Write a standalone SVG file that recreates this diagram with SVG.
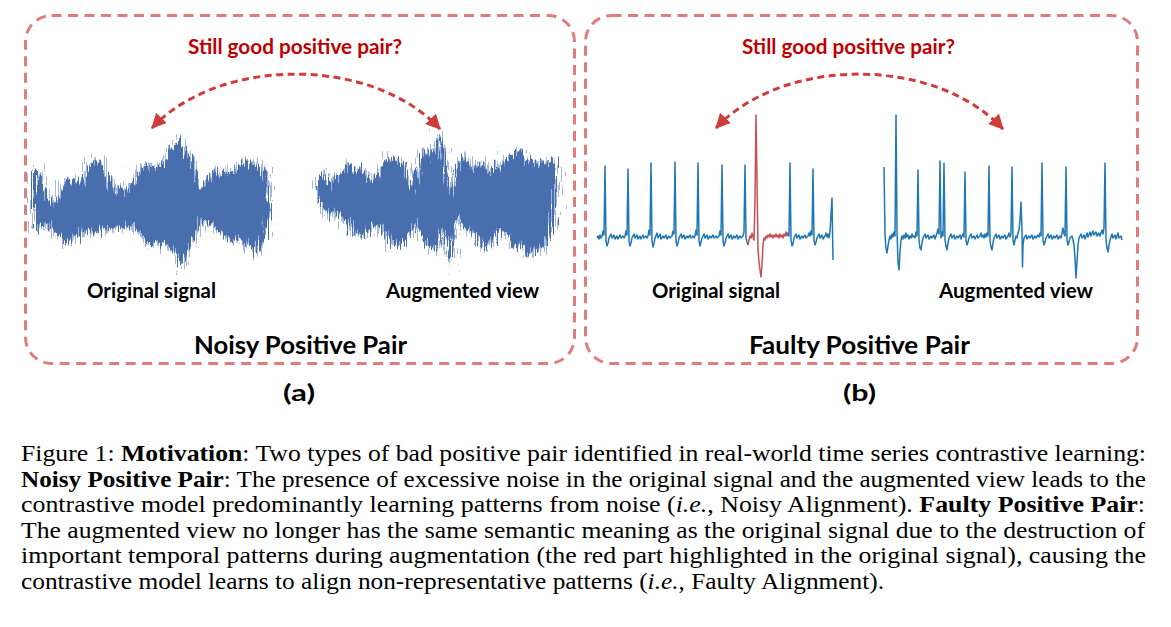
<svg xmlns="http://www.w3.org/2000/svg" xmlns:xlink="http://www.w3.org/1999/xlink" width="1171" height="627" viewBox="0 0 1171 627">
<style>
.border{fill:none;stroke:#E07C7A;stroke-width:3;stroke-dasharray:10 6.5}
.q{font-family:Lato,"Open Sans","Liberation Sans",sans-serif;font-weight:700;font-size:20px;fill:#C00000}
.lbl{font-family:Lato,"Open Sans","Liberation Sans",sans-serif;font-weight:700;font-size:20px;fill:#000}
.ttl{font-family:Lato,"Open Sans","Liberation Sans",sans-serif;font-weight:700;font-size:24px;fill:#000}
.sub{font-family:Lato,"Open Sans","Liberation Sans",sans-serif;font-weight:700;font-size:23px;fill:#000}
.cap{font-family:"Liberation Serif","Times New Roman",serif;font-size:23px;fill:#000}
.b{font-weight:700}
.it{font-style:italic}
.arr{fill:none;stroke:#D03B3B;stroke-width:3;stroke-dasharray:7 4.5;marker-start:url(#ah);marker-end:url(#ah)}
.ecg{fill:none;stroke:#1F77B4;stroke-width:1.5;stroke-linejoin:round}
.ecgr{fill:none;stroke:#C94F55;stroke-width:1.5;stroke-linejoin:round}
.noise{fill:#4A6EAD}
.fringe{fill:#7E9BD0;opacity:.7}
</style>
<defs>
<marker id="ah" viewBox="0 0 14 14" refX="13" refY="7" markerWidth="15" markerHeight="15" markerUnits="userSpaceOnUse" orient="auto-start-reverse">
<path d="M0,0 L14,7 L0,14 z" fill="#D03B3B"/>
</marker>
<filter id="j1" x="-0.05" y="-0.3" width="1.1" height="1.6">
<feTurbulence type="fractalNoise" baseFrequency="0.7 0.03" numOctaves="2" seed="4" result="n"/>
<feDisplacementMap in="SourceGraphic" in2="n" scale="24" xChannelSelector="R" yChannelSelector="G"/>
</filter>
<filter id="j2" x="-0.05" y="-0.3" width="1.1" height="1.6">
<feTurbulence type="fractalNoise" baseFrequency="0.9 0.05" numOctaves="2" seed="9" result="n"/>
<feDisplacementMap in="SourceGraphic" in2="n" scale="38" xChannelSelector="R" yChannelSelector="G"/>
</filter>
<path id="sigA1" d="M33,168 L36,172 40,177 44,187 48,199 52,202 56,204 60,194 64,184 68,182 72,180 76,184 80,190 84,180 88,167 92,162 96,160 100,164 104,167 108,182 112,190 116,194 120,192 124,188 128,192 132,184 136,182 140,172 144,167 148,164 152,170 156,167 160,167 164,160 168,152 172,147 175,142 177,139 180,145 184,150 188,154 192,162 196,177 200,190 204,187 208,180 212,172 216,170 220,174 224,169 228,174 232,172 236,174 240,164 244,160 248,167 252,162 256,164 260,167 264,170 268,180 L268,214 264,240 260,250 256,254 252,244 248,248 244,240 240,237 236,242 232,238 228,240 224,234 220,232 216,230 212,226 208,220 204,216 200,220 196,232 192,244 188,254 184,260 182,265 178,258 174,252 170,247 166,242 162,245 158,240 154,242 150,244 146,238 142,234 138,230 134,228 130,230 126,226 122,228 118,224 114,226 110,228 106,230 102,227 98,232 94,234 90,230 86,227 82,234 78,238 74,232 70,240 66,242 62,238 58,234 54,230 50,228 46,224 42,226 38,230 33,228 Z"/>
<path id="sigA2" d="M321,177 L324,174 328,182 332,180 336,174 340,177 344,172 348,164 352,167 356,172 360,166 364,174 368,180 372,177 376,178 380,172 384,162 388,159 392,160 396,158 400,162 404,164 408,180 412,190 416,177 420,162 424,152 428,150 432,160 436,147 439,134 442,142 444,157 447,177 450,197 453,187 456,170 460,160 464,157 468,162 472,172 476,166 480,162 484,167 488,172 492,170 496,164 500,170 504,162 508,157 512,154 516,150 520,157 524,152 528,162 532,160 536,164 540,167 544,160 548,164 552,160 555,167 L555,212 552,230 548,237 544,244 540,250 536,247 532,257 528,252 524,250 520,242 516,247 512,242 508,234 504,232 500,230 496,234 492,242 488,250 484,247 480,237 476,232 472,234 468,230 464,227 460,220 456,217 453,242 451,269 448,247 445,232 442,227 438,242 434,250 430,244 426,247 422,237 418,227 414,224 410,230 406,240 402,244 398,242 394,245 390,240 386,237 382,227 378,222 374,224 370,227 366,234 362,237 358,230 354,234 350,227 346,220 342,217 338,214 334,212 330,217 326,212 321,210 Z"/>
</defs>
<rect width="1171" height="627" fill="#fff"/>

<g id="panel-a">
<rect class="border" x="25.5" y="15.5" width="549" height="348" rx="26"/>
<text class="q" x="188" y="54" textLength="214" lengthAdjust="spacingAndGlyphs">Still good positive pair?</text>
<g id="a-original">
<use xlink:href="#sigA1" class="fringe" filter="url(#j2)"/>
<use xlink:href="#sigA1" class="noise" filter="url(#j1)"/>
</g>
<g id="a-augmented">
<use xlink:href="#sigA2" class="fringe" filter="url(#j2)"/>
<use xlink:href="#sigA2" class="noise" filter="url(#j1)"/>
</g>
<text class="lbl" x="87" y="298" textLength="129" lengthAdjust="spacingAndGlyphs">Original signal</text>
<text class="lbl" x="386" y="298" textLength="153" lengthAdjust="spacingAndGlyphs">Augmented view</text>
<text class="ttl" x="194" y="354" textLength="213" lengthAdjust="spacingAndGlyphs">Noisy Positive Pair</text>
<text class="sub" x="283" y="401" textLength="32" lengthAdjust="spacingAndGlyphs">(a)</text>
</g>

<g id="panel-b">
<rect class="border" x="585.5" y="15.5" width="552" height="348" rx="26"/>
<text class="q" x="742" y="54" textLength="213" lengthAdjust="spacingAndGlyphs">Still good positive pair?</text>
<g id="b-original">
<path class="ecg" d="M597,238 L598,236 599,239 600,235 601,238 602,236 603,231 604,235 605,166 606,241 607,246 608,243 609,238 611,234 612,238 614,235 615,239 617,236 618,239 620,235 621,238 623,236 624,238 625,236 626,231 627,235 628,169 629,241 630,246 631,243 632,238 634,234 635,238 637,235 638,239 640,236 641,239 643,235 644,238 646,236 647,238 648,236 649,230 650,235 651,163 652,241 653,247 654,243 655,238 657,233 658,238 660,234 661,239 663,236 664,238 666,235 667,239 669,236 670,238 672,236 673,231 674,234 675,162 676,241 677,246 678,243 679,238 681,234 682,238 684,235 685,239 687,236 688,238 690,235 691,238 693,236 694,238 695,236 696,230 697,235 698,163 699,241 700,246 701,242 702,238 704,234 705,238 707,235 708,239 710,236 711,238 713,235 714,238 716,236 717,238 719,236 720,231 721,235 722,165 723,241 724,246 725,243 726,238 728,234 729,238 731,235 732,239 734,236 735,238 737,235 738,239 740,236 741,238 743,236 744,232 745,165 746,238 747,242 748,245"/>
<path class="ecgr" d="M748,245 L749,240 750,236 751,238 752,233 753,237 754,240 755,200 756,115 757,180 758,250 759,262 760,270 761,277 762,265 763,245 764,238 765,240 766,236 767,238 768,235 769,237 770,234 771,237 772,235 773,238 774,235 775,237 776,234 777,237 778,235 779,238 780,234 781,237 782,235 783,238 784,234 785,236 786,232 787,236"/>
<path class="ecg" d="M787,236 L788,233 789,236 790,163 791,240 792,246 793,244 794,238 796,234 797,238 799,235 800,239 802,236 803,238 805,235 806,238 808,236 809,233 810,236 811,231 812,235 813,169 814,240 815,245 816,242 817,238 819,234 820,238 822,235 823,239 825,236 826,233 827,237 828,234 829,238 830,232 831,215 832,198 832.5,230 833,260"/>
</g>
<g id="b-augmented">
<path class="ecg" d="M884,167 L885,235 886,248 887,253 888,246 889,240 890,236 891,239 892,234 893,237 894,232 895,236 896,115 897,230 898,262 899,270 900,252 901,240 902,236 903,239 904,235 905,238 906,233 907,237 908,235 909,239 910,236 911,238 912,234 913,237 914,236 915,238 916,232 917,236 918,170 919,240 920,248 921,250 922,243 923,238 925,234 926,238 928,235 929,239 931,236 932,238 934,235 935,239 937,233 938,229 939,234 940,161 941,238 942,232 943,236 944,163 945,240 946,246 947,250 948,243 949,238 951,234 952,238 954,235 955,239 957,236 958,238 960,235 961,239 962,236 963,234 964,237 965,172 966,240 967,245 968,242 969,238 971,234 972,238 974,236 975,239 977,235 978,238 980,236 981,233 982,237 983,235 984,238 985,234 986,237 987,233 988,236 989,166 990,241 991,247 992,250 993,243 994,238 996,234 997,238 999,235 1000,239 1002,236 1003,238 1005,235 1006,239 1008,236 1009,233 1010,237 1011,234 1012,167 1013,240 1014,245 1015,240 1016,236 1017,238 1018,233 1019,230 1020,220 1021,202 1022,230 1022.5,267 1023,245 1024,238 1026,235 1027,239 1029,236 1030,238 1032,235 1033,239 1035,236 1036,238 1038,235 1039,237 1040,233 1041,236 1042,163 1043,240 1044,245 1045,242 1046,238 1048,234 1049,238 1051,235 1052,239 1054,236 1055,238 1057,235 1058,239 1060,236 1061,238 1062,233 1063,228 1064,234 1065,236 1066,167 1067,240 1068,245 1069,242 1070,238 1072,236 1073,240 1074,245 1075,258 1076,278 1077,262 1078,245 1079,238 1081,234 1082,238 1084,235 1085,239 1087,233 1088,237 1090,232 1091,236 1093,231 1094,235 1096,232 1097,236 1099,233 1100,236 1102,230 1103,234 1104,228 1105,163 1106,240 1107,248 1108,252 1109,245 1110,240 1112,234 1113,238 1115,235 1116,239 1118,233 1119,238 1121,236 1122,240"/>
</g>
<text class="lbl" x="652" y="298" textLength="128" lengthAdjust="spacingAndGlyphs">Original signal</text>
<text class="lbl" x="939" y="298" textLength="154" lengthAdjust="spacingAndGlyphs">Augmented view</text>
<text class="ttl" x="749" y="354" textLength="221" lengthAdjust="spacingAndGlyphs">Faulty Positive Pair</text>
<text class="sub" x="843" y="401" textLength="33" lengthAdjust="spacingAndGlyphs">(b)</text>
</g>

<g id="connectors">
<path class="arr" d="M152,128 C220,56 372,56 440,129"/>
<path class="arr" d="M716,128 C784,56 935,56 1003,129"/>
</g>

<g id="caption" class="cap">
<text x="21" y="461" textLength="1125" lengthAdjust="spacingAndGlyphs">Figure 1: <tspan class="b">Motivation</tspan>: Two types of bad positive pair identified in real-world time series contrastive learning:</text>
<text x="21" y="486.6" textLength="1125" lengthAdjust="spacingAndGlyphs"><tspan class="b">Noisy Positive Pair</tspan>: The presence of excessive noise in the original signal and the augmented view leads to the</text>
<text x="21" y="512.2" textLength="1124" lengthAdjust="spacingAndGlyphs">contrastive model predominantly learning patterns from noise (<tspan class="it">i.e.</tspan>, Noisy Alignment). <tspan class="b">Faulty Positive Pair</tspan>:</text>
<text x="21" y="537.8" textLength="1124" lengthAdjust="spacingAndGlyphs">The augmented view no longer has the same semantic meaning as the original signal due to the destruction of</text>
<text x="21" y="563.4" textLength="1125" lengthAdjust="spacingAndGlyphs">important temporal patterns during augmentation (the red part highlighted in the original signal), causing the</text>
<text x="21" y="589" textLength="863" lengthAdjust="spacingAndGlyphs">contrastive model learns to align non-representative patterns (<tspan class="it">i.e.</tspan>, Faulty Alignment).</text>
</g>
</svg>
